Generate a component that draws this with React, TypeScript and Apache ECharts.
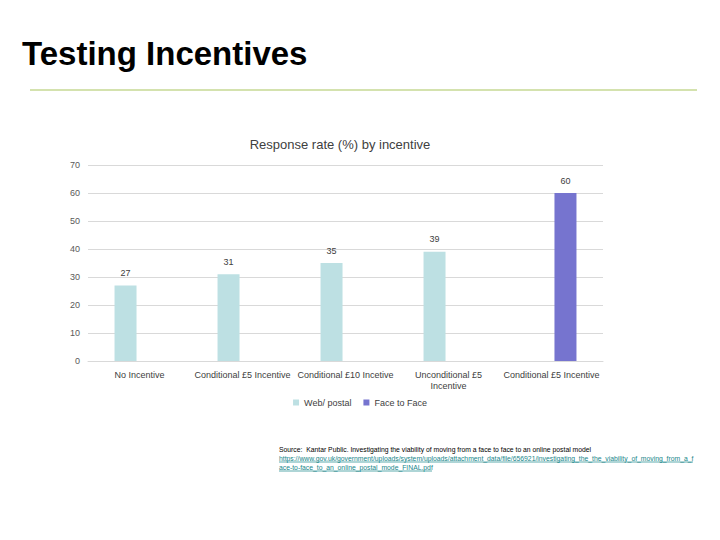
import React, { useEffect, useRef } from "react";
import * as echarts from "echarts";

const categories = [
  "No Incentive",
  "Conditional £5 Incentive",
  "Conditional £10 Incetive",
  "Unconditional £5 Incentive",
  "Conditional £5 Incentive",
];
const webPostal = [27, 31, 35, 39, null];
const faceToFace = [null, null, null, null, 60];
const yTicks = { min: 0, max: 70, interval: 10 };

const sourceLine = "Source:  Kantar Public. Investigating the viability of moving from a face to face to an online postal model";
const urlLine1 = "https://www.gov.uk/government/uploads/system/uploads/attachment_data/file/656921/investigating_the_the_viability_of_moving_from_a_f";
const urlLine2 = "ace-to-face_to_an_online_postal_mode_FINAL.pdf";

export default function App() {
  const ref = useRef<HTMLDivElement>(null);
  useEffect(() => {
    if (!ref.current) return;
    const chart = echarts.init(ref.current, undefined, { renderer: "svg" });
    const font = "Liberation Sans, Arial, sans-serif";
    const teal = "#17868a";
    chart.setOption({
      animation: false,
      textStyle: { fontFamily: font },
      grid: { left: 88, right: 117, top: 165, bottom: 179 },
      xAxis: {
        type: "category",
        data: categories,
        axisLine: { lineStyle: { color: "#d9d9d9" } },
        axisTick: { show: false },
        axisLabel: {
          color: "#404040",
          fontSize: 9,
          margin: 8,
          interval: 0,
          lineHeight: 11,
          hideOverlap: false,
          formatter: (v: string) => (v === "Unconditional £5 Incentive" ? "Unconditional £5\nIncentive" : v),
        },
      },
      yAxis: {
        type: "value",
        min: yTicks.min,
        max: yTicks.max,
        interval: yTicks.interval,
        axisLine: { show: false },
        axisTick: { show: false },
        axisLabel: { color: "#595959", fontSize: 9, margin: 8 },
        splitLine: { lineStyle: { color: "#d9d9d9" } },
      },
      legend: {
        bottom: 128,
        left: "center",
        itemWidth: 6,
        itemHeight: 6,
        itemGap: 12,
        icon: "rect",
        textStyle: { color: "#404040", fontSize: 9 },
        data: ["Web/ postal", "Face to Face"],
      },
      series: [
        {
          name: "Web/ postal",
          type: "bar",
          data: webPostal,
          barWidth: 22,
          barGap: "27%",
          itemStyle: { color: "#bde0e3" },
          label: { show: true, position: "top", color: "#404040", fontSize: 9, distance: 8 },
        },
        {
          name: "Face to Face",
          type: "bar",
          data: faceToFace,
          barWidth: 22,
          itemStyle: { color: "#7674cf" },
          label: { show: true, position: "top", color: "#404040", fontSize: 9, distance: 8 },
        },
      ],
      graphic: [
        {
          type: "text",
          left: 22,
          top: 37,
          style: { text: "Testing Incentives", font: "bold 33px " + font, fill: "#000" },
        },
        {
          type: "line",
          shape: { x1: 30, y1: 90, x2: 697, y2: 90 },
          style: { stroke: "#a9c55e", lineWidth: 1.2 },
        },
        {
          type: "text",
          x: 340,
          y: 144,
          style: {
            text: "Response rate (%) by incentive",
            font: "13px " + font,
            fill: "#404040",
            align: "center",
            verticalAlign: "middle",
          },
        },
        {
          type: "text",
          x: 279,
          y: 449,
          style: { text: sourceLine, font: "6.8px " + font, fill: "#000", verticalAlign: "middle" },
        },
        {
          type: "text",
          x: 279,
          y: 458,
          style: { text: urlLine1, font: "6.8px " + font, fill: teal, verticalAlign: "middle" },
        },
        {
          type: "line",
          shape: { x1: 279, y1: 462, x2: 693, y2: 462 },
          style: { stroke: teal, lineWidth: 0.7 },
        },
        {
          type: "text",
          x: 279,
          y: 467,
          style: { text: urlLine2, font: "6.8px " + font, fill: teal, verticalAlign: "middle" },
        },
        {
          type: "line",
          shape: { x1: 279, y1: 471, x2: 432, y2: 471 },
          style: { stroke: teal, lineWidth: 0.7 },
        },
      ],
    });
    return () => chart.dispose();
  }, []);
  return (
    <div
      ref={ref}
      style={{ position: "absolute", left: 0, top: 0, width: 720, height: 540, background: "#fff" }}
    />
  );
}
